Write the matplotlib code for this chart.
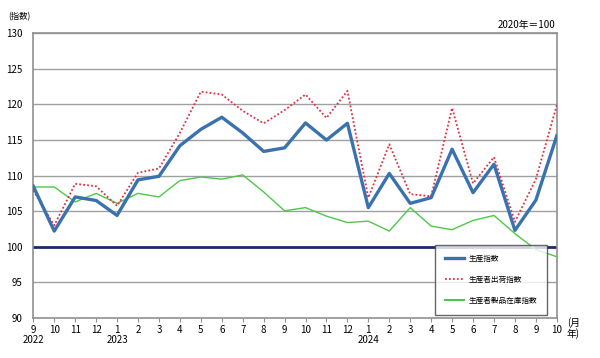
import matplotlib
matplotlib.use("Agg")
import matplotlib.pyplot as plt
from matplotlib.lines import Line2D

plt.rcParams['font.family'] = ['Noto Sans CJK JP', 'DejaVu Sans']

months = ["9", "10", "11", "12", "1", "2", "3", "4", "5", "6", "7", "8", "9", "10", "11", "12",
          "1", "2", "3", "4", "5", "6", "7", "8", "9", "10"]
year_labels = {0: "2022", 4: "2023", 16: "2024"}

production = [108.5, 102.2, 107.0, 106.5, 104.4, 109.4, 109.9, 114.2, 116.5, 118.2, 116.0, 113.4, 113.9,
              117.4, 115.0, 117.35, 105.5, 110.3, 106.1, 106.9, 113.7, 107.6, 111.6, 102.3, 106.55, 115.6]
shipments = [107.9, 103.0, 108.85, 108.5, 105.75, 110.4, 111.0, 116.0, 121.8, 121.4, 119.1, 117.35, 119.2,
             121.4, 118.1, 121.9, 106.9, 114.4, 107.4, 107.1, 119.5, 108.9, 112.6, 103.5, 109.5, 119.9]
inventory = [108.4, 108.4, 106.3, 107.5, 106.1, 107.5, 107.0, 109.3, 109.8, 109.5, 110.1, 107.7, 105.05,
             105.5, 104.3, 103.4, 103.6, 102.2, 105.5, 102.9, 102.4, 103.7, 104.4, 101.85, 99.6, 98.6]

series_names = ["生産指数", "生産者出荷指数", "生産者製品在庫指数"]

fig = plt.figure(figsize=(6.0, 3.58), dpi=100)
ax = fig.add_axes([0.0555, 0.112, 0.8725, 0.795])

x = list(range(len(months)))
ax.set_xlim(0, len(months) - 1)
ax.set_ylim(90, 130)
ax.set_yticks(range(90, 131, 5))
for yv in range(95, 131, 5):
    if yv != 100:
        ax.axhline(yv, color="#a0a0a0", lw=1.0, zorder=1)
ax.axhline(100, color="#1c2a6b", lw=2.0, zorder=2)

ax.plot(x, inventory, color="#4ec84a", lw=1.0, zorder=3)
ax.plot(x, shipments, color="#e03040", lw=1.3, linestyle=(0, (1, 1.2)), zorder=4)
ax.plot(x, production, color="#3a72b0", lw=2.4, zorder=5)

for s in ax.spines.values():
    s.set_color("#909090")
    s.set_linewidth(1.2)

ax.set_xticks(x)
ax.set_xticklabels(months)
ax.tick_params(axis="x", length=3, color="#909090", labelsize=7, pad=2)
ax.tick_params(axis="y", length=0, labelsize=7, pad=8)

for i, yl in year_labels.items():
    ax.annotate(yl, xy=(i, 0), xycoords=ax.get_xaxis_transform(),
                xytext=(0, -16), textcoords="offset points",
                ha="center", va="center", fontsize=7)

fig.text(0.945, 0.1, "(月", fontsize=7, ha="left", va="center")
fig.text(0.945, 0.068, "年)", fontsize=7, ha="left", va="center")
fig.text(0.013, 0.9525, "(指数)", fontsize=6, ha="left", va="center")
fig.text(0.925, 0.93, "2020年＝100", fontsize=7, ha="right", va="center")

handles = [Line2D([], [], color="#3a72b0", lw=2.4),
           Line2D([], [], color="#e03040", lw=1.3, linestyle=(0, (1, 1.2))),
           Line2D([], [], color="#4ec84a", lw=1.5)]
leg = ax.legend(handles, series_names, loc="lower right", bbox_to_anchor=(0.981, 0.0105),
                fontsize=5.5, frameon=True, fancybox=False, edgecolor="#404040",
                handlelength=2.6, labelspacing=1.7, borderpad=1.3, borderaxespad=0.0,
                handletextpad=0.5)
leg.get_frame().set_linewidth(1.0)
leg.set_zorder(10)

fig.savefig("out.png", dpi=100, facecolor="white")
